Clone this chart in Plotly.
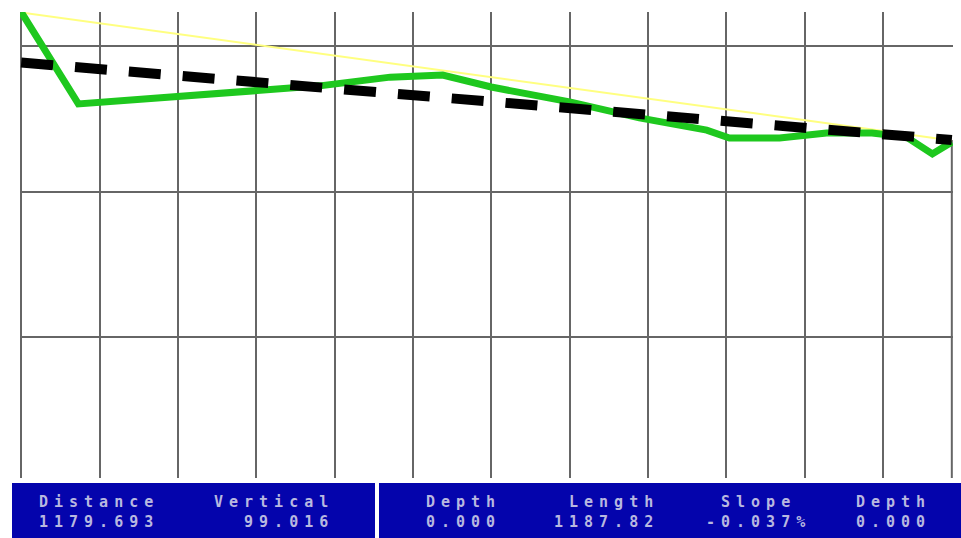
import plotly.graph_objects as go

# ---- survey values -------------------------------------------------------
LENGTH = 1187.82          # run length
SLOPE_PCT = -0.037        # design grade, percent
GRADE_START = 100.115     # elevation where the design grade begins

# measured ground profile (distance, elevation)
profile_dist = [0, 73, 381, 471, 538, 600, 700, 789, 875, 904, 968,
                1028, 1086, 1130, 1163, LENGTH]
profile_elev = [100.117, 99.801, 99.863, 99.893, 99.900, 99.859, 99.808,
                99.753, 99.711, 99.684, 99.684, 99.701, 99.701, 99.687,
                99.629, 99.670]

# best-fit trend line through the profile
trend_dist = [0, LENGTH]
trend_elev = [99.943, 99.677]

# status bar readouts
left_labels = ["Distance", "Vertical"]
left_values = ["1179.693", "99.016"]
right_labels = ["Depth", "Length", "Slope", "Depth"]
right_values = ["0.000", "1187.82", "-0.037%", "0.000"]

# ---- geometry ------------------------------------------------------------
W, H = 961, 538
ML, MR, MT, MB = 20, 8, 12, 60
X_PAD = 1.5
Y_RANGE = [98.5155, 100.1168]

grade_dist = [0, LENGTH]
grade_elev = [GRADE_START, GRADE_START + SLOPE_PCT / 100.0 * LENGTH]

GRID = "#666666"
BLUE = "#0404ac"
TXT = "#b8b8e0"


def px(x):
    return (x - ML) / (W - ML - MR)


def py(y):
    return (H - MB - y) / (H - MT - MB)


fig = go.Figure()

# end-of-run drop line
fig.add_trace(go.Scatter(x=[LENGTH, LENGTH], y=[trend_elev[-1], Y_RANGE[0]],
                         mode="lines", line=dict(color=GRID, width=2),
                         hoverinfo="skip"))
# design grade
fig.add_trace(go.Scatter(x=grade_dist, y=grade_elev, mode="lines",
                         line=dict(color="#ffff80", width=2)))
# ground profile
fig.add_trace(go.Scatter(x=profile_dist, y=profile_elev, mode="lines",
                         line=dict(color="#1ec81e", width=7)))
# trend
fig.add_trace(go.Scatter(x=trend_dist, y=trend_elev, mode="lines",
                         line=dict(color="#000000", width=10, dash="32px,22px")))

# status bar panels
shapes = [
    dict(type="rect", xref="paper", yref="paper", x0=px(12), x1=px(375),
         y0=py(538), y1=py(483), fillcolor=BLUE, line=dict(width=0), layer="above"),
    dict(type="rect", xref="paper", yref="paper", x0=px(379), x1=px(961),
         y0=py(538), y1=py(483), fillcolor=BLUE, line=dict(width=0), layer="above"),
]

# each readout: label over value; (left x, right x, alignment)
readout_pos = [(38, 160, "left"), (208, 330, "right"), (425, 498, "left"),
               (550, 655, "right"), (703, 808, "center"), (855, 932, "left")]
labels = left_labels + right_labels
values = left_values + right_values
annotations = []
for (x0, x1, al), lab, val in zip(readout_pos, labels, values):
    anchor_x = {"left": x0, "right": x1 + 5, "center": (x0 + x1 + 5) / 2}[al]
    annotations.append(dict(
        xref="paper", yref="paper", x=px(anchor_x), y=py(492),
        xanchor=al, yanchor="top", align=al, showarrow=False,
        text=(f'<span style="letter-spacing:6px">{lab}</span><br>'
              f'<span style="letter-spacing:6px">{val}</span>'),
        font=dict(family="DejaVu Sans Mono", size=15, color=TXT,
                  weight="bold"),
        borderpad=0))

fig.update_layout(
    width=W, height=H, margin=dict(l=ML, r=MR, t=MT, b=MB),
    paper_bgcolor="white", plot_bgcolor="white", showlegend=False,
    shapes=shapes, annotations=annotations,
    xaxis=dict(range=[-X_PAD, LENGTH + X_PAD], tick0=0, dtick=100,
               showgrid=True, gridcolor=GRID, gridwidth=2, zeroline=False,
               showline=False, showticklabels=False, ticks=""),
    yaxis=dict(range=Y_RANGE, tick0=0, dtick=0.5, showgrid=True,
               gridcolor=GRID, gridwidth=2, zeroline=False, showline=False,
               showticklabels=False, ticks=""),
)

fig.write_html("out.html")
